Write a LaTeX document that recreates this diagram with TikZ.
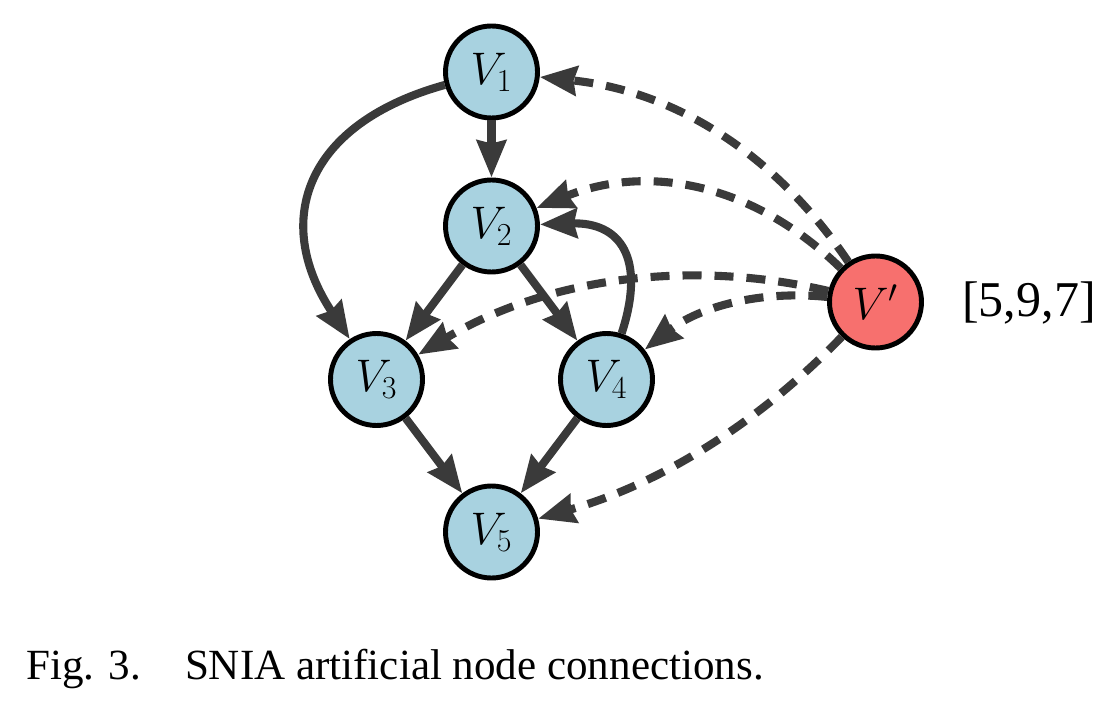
\documentclass[tikz,border=0pt]{standalone}
\usepackage{fix-cm}
\usepackage{fontspec}
\setmainfont{Liberation Serif}
\usetikzlibrary{arrows.meta}
\definecolor{nodeblue}{RGB}{168,210,224}
\definecolor{nodered}{RGB}{247,112,110}
\definecolor{edgegray}{RGB}{58,58,58}
\begin{document}
\begin{tikzpicture}[
  vnode/.style={circle, draw=black, line width=2.8pt, fill=nodeblue, minimum size=1.84cm, inner sep=0pt, font=\fontsize{26}{30}\selectfont},
  pnode/.style={vnode, fill=nodered},
  edge/.style={draw=edgegray, line width=4.6pt, -{Stealth[length=0.74cm, width=0.58cm, inset=0.06cm]}},
  dedge/.style={edge, dash pattern=on 0.38cm off 0.26cm}
]
\useasboundingbox (0,0) rectangle (22.2,14.08);
% graph nodes
\node[vnode] (V1) at (9.83, 12.64) {$V_1$};
\node[vnode] (V2) at (9.83, 9.56) {$V_2$};
\node[vnode] (V3) at (7.53, 6.49) {$V_3$};
\node[vnode] (V4) at (12.13, 6.49) {$V_4$};
\node[vnode] (V5) at (9.83, 3.44) {$V_5$};
\node[pnode] (Vp) at (17.51, 8.04) {$V'$};
\node[anchor=base west, font=\fontsize{28.5}{32}\selectfont] (vec) at (19.12, 7.74) {[5,9,7]};
% original edges
\draw[edge] (V1) -- (V2);
\draw[edge] (V1) to[bend right=54, looseness=1.35] (V3);
\draw[edge] (V2) -- (V3);
\draw[edge] (V2) -- (V4);
\draw[edge] (V4) to[bend right=55, looseness=1.5] (V2);
\draw[edge] (V3) -- (V5);
\draw[edge] (V4) -- (V5);
% artificial node edges
\draw[dedge] (Vp) to[bend right=25, looseness=0.95] (V1);
\draw[dedge] (Vp) to[bend right=33, looseness=1.0] (V2);
\draw[dedge] (Vp) to[bend right=22, looseness=0.9] (V3);
\draw[dedge] (Vp) to[bend right=22, looseness=0.92] (V4);
\draw[dedge] (Vp) to[bend left=15, looseness=0.9] (V5);
% caption
\node[anchor=base west, font=\fontsize{24.5}{29}\selectfont] (cap) at (0.4, 0.5) {Fig. 3.\hspace{0.88cm}SNIA artificial node connections.};
\end{tikzpicture}
\end{document}
